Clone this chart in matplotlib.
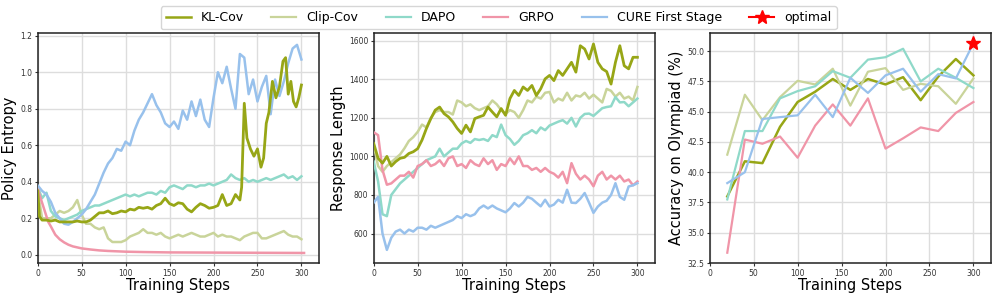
import matplotlib
matplotlib.use("Agg")
import matplotlib.pyplot as plt

# ---------------- data ----------------
labels = ["KL-Cov", "Clip-Cov", "DAPO", "GRPO", "CURE First Stage"]
colors = ["#97a616", "#c9d49a", "#8fd9c9", "#f095a8", "#98c1ec"]

steps5 = list(range(0, 301, 5))

# Panel 1: Policy Entropy
ent_kl_steps = [0, 2, 5, 10, 15, 20, 25, 30, 35, 40, 45, 50, 55, 60, 65, 70, 75, 80, 85, 90, 95,
                100, 105, 110, 115, 120, 125, 130, 135, 140, 145, 150, 155, 160, 165, 170, 175,
                180, 185, 190, 195, 200, 205, 210, 215, 220, 225, 230, 232, 235, 238, 242, 246,
                250, 254, 257, 260, 263, 267, 271, 275, 279, 282, 285, 288, 291, 294, 297, 300]
ent_kl = [0.35, 0.21, 0.19, 0.19, 0.185, 0.19, 0.18, 0.18, 0.18, 0.18, 0.185, 0.18, 0.18, 0.19,
          0.21, 0.23, 0.23, 0.24, 0.225, 0.23, 0.24, 0.235, 0.25, 0.245, 0.26, 0.255, 0.26, 0.25,
          0.27, 0.28, 0.31, 0.28, 0.27, 0.285, 0.28, 0.25, 0.235, 0.26, 0.28, 0.27, 0.255, 0.26,
          0.27, 0.33, 0.27, 0.28, 0.33, 0.30, 0.37, 0.83, 0.64, 0.58, 0.54, 0.58, 0.48, 0.53,
          0.72, 0.78, 0.95, 0.86, 0.92, 1.06, 1.08, 0.88, 0.95, 0.84, 0.81, 0.86, 0.93]
ent_clip = [0.35, 0.20, 0.20, 0.20, 0.22, 0.24, 0.23, 0.24, 0.26, 0.30, 0.22, 0.17, 0.17, 0.15,
            0.14, 0.15, 0.09, 0.07, 0.07, 0.07, 0.08, 0.10, 0.11, 0.12, 0.14, 0.12, 0.12, 0.11,
            0.12, 0.10, 0.09, 0.10, 0.11, 0.10, 0.11, 0.12, 0.11, 0.10, 0.10, 0.11, 0.12, 0.10,
            0.11, 0.10, 0.10, 0.09, 0.08, 0.10, 0.11, 0.12, 0.12, 0.09, 0.09, 0.10, 0.11, 0.12,
            0.13, 0.11, 0.10, 0.10, 0.085]
ent_dapo = [0.37, 0.31, 0.34, 0.24, 0.21, 0.20, 0.19, 0.20, 0.21, 0.22, 0.24, 0.25, 0.26, 0.27,
            0.27, 0.28, 0.29, 0.30, 0.31, 0.32, 0.33, 0.32, 0.33, 0.32, 0.33, 0.34, 0.34, 0.33,
            0.35, 0.34, 0.37, 0.38, 0.37, 0.36, 0.38, 0.38, 0.37, 0.38, 0.38, 0.39, 0.38, 0.39,
            0.40, 0.41, 0.44, 0.42, 0.41, 0.42, 0.40, 0.41, 0.40, 0.41, 0.42, 0.41, 0.42, 0.43,
            0.44, 0.42, 0.43, 0.41, 0.43]
ent_grpo_steps = [0, 2, 4, 6, 8, 10, 12, 15, 20, 25, 30, 35, 40, 50, 60, 70, 80, 100, 120, 150,
                  200, 250, 303]
ent_grpo = [0.37, 0.33, 0.30, 0.27, 0.24, 0.21, 0.18, 0.155, 0.11, 0.085, 0.068, 0.055, 0.046,
            0.035, 0.029, 0.024, 0.021, 0.017, 0.015, 0.013, 0.012, 0.011, 0.010]
ent_cure = [0.38, 0.35, 0.33, 0.29, 0.23, 0.20, 0.17, 0.165, 0.18, 0.20, 0.22, 0.25, 0.29, 0.33,
            0.39, 0.45, 0.50, 0.53, 0.58, 0.57, 0.62, 0.60, 0.68, 0.74, 0.78, 0.83, 0.88, 0.82,
            0.78, 0.72, 0.70, 0.73, 0.69, 0.79, 0.74, 0.84, 0.76, 0.85, 0.74, 0.70, 0.86, 1.00,
            0.94, 1.03, 0.91, 0.80, 1.10, 1.08, 0.88, 0.96, 0.84, 0.92, 0.98, 0.77, 0.96, 0.87,
            0.95, 1.05, 1.13, 1.15, 1.07]

# Panel 2: Response Length
len_kl = [1067, 990, 965, 1000, 950, 973, 990, 995, 1015, 1024, 1040, 1085, 1145, 1196, 1240,
          1256, 1222, 1205, 1179, 1145, 1119, 1162, 1127, 1196, 1205, 1213, 1256, 1230, 1205,
          1248, 1213, 1300, 1342, 1316, 1360, 1342, 1368, 1316, 1351, 1402, 1420, 1393, 1445,
          1420, 1454, 1488, 1437, 1574, 1557, 1505, 1583, 1488, 1454, 1440, 1375, 1488, 1574,
          1470, 1454, 1514, 1514]
len_clip = [1060, 950, 920, 950, 970, 990, 1010, 1042, 1080, 1100, 1127, 1165, 1150, 1200, 1230,
            1240, 1230, 1230, 1217, 1290, 1280, 1260, 1270, 1250, 1240, 1250, 1260, 1290, 1270,
            1240, 1220, 1240, 1230, 1200, 1240, 1290, 1280, 1310, 1300, 1330, 1334, 1280, 1300,
            1290, 1330, 1290, 1316, 1310, 1330, 1300, 1320, 1300, 1280, 1350, 1340, 1310, 1330,
            1300, 1310, 1290, 1360]
len_dapo = [973, 870, 700, 690, 800, 830, 860, 880, 900, 920, 940, 960, 980, 990, 1000, 1040,
            1000, 1020, 1040, 1040, 1067, 1080, 1070, 1090, 1085, 1090, 1080, 1110, 1100, 1165,
            1110, 1090, 1060, 1080, 1110, 1120, 1136, 1120, 1150, 1136, 1160, 1170, 1180, 1188,
            1170, 1200, 1155, 1200, 1220, 1222, 1210, 1230, 1250, 1256, 1260, 1308, 1280, 1282,
            1260, 1280, 1300]
len_grpo = [1125, 1110, 930, 853, 860, 880, 900, 900, 920, 890, 950, 960, 980, 950, 960, 980,
            950, 990, 1000, 950, 960, 940, 980, 960, 950, 990, 960, 980, 930, 960, 950, 990, 960,
            1000, 950, 950, 930, 940, 920, 940, 920, 910, 890, 920, 861, 965, 910, 880, 900, 880,
            845, 900, 920, 880, 900, 880, 900, 870, 880, 850, 870]
len_cure = [760, 790, 600, 515, 578, 610, 620, 600, 620, 610, 630, 630, 620, 640, 630, 640, 650,
            660, 670, 690, 680, 700, 690, 700, 730, 745, 730, 745, 730, 720, 710, 730, 758, 740,
            760, 790, 780, 760, 741, 775, 740, 750, 775, 760, 827, 760, 758, 780, 810, 760, 707,
            740, 760, 770, 800, 861, 790, 775, 844, 850, 861]

# Panel 3: Accuracy on Olympiad
eval_steps = [20, 40, 60, 80, 100, 120, 140, 160, 180, 200, 220, 240, 260, 280, 300]
acc_kl = [38.0, 40.9, 40.75, 43.75, 45.8, 46.65, 47.7, 46.8, 47.7, 47.25, 47.85, 45.95, 47.9, 49.35, 48.0]
acc_clip = [41.45, 46.4, 44.3, 46.2, 47.55, 47.25, 48.55, 45.5, 48.3, 48.6, 46.8, 47.3, 47.1, 45.65, 47.75]
acc_dapo = [37.75, 43.4, 43.4, 46.1, 46.7, 47.1, 48.35, 47.8, 49.3, 49.5, 50.2, 47.5, 48.55, 47.8, 46.95]
acc_grpo = [33.35, 42.7, 42.35, 42.95, 41.2, 43.85, 45.6, 43.85, 46.1, 41.95, 42.8, 43.7, 43.4, 44.9, 45.8]
acc_cure = [39.1, 40.0, 44.4, 44.55, 44.7, 46.4, 44.55, 47.8, 46.55, 48.0, 48.55, 46.65, 48.1, 47.75, 50.65]
optimal_step = [300]
optimal_acc = [50.65]

# ---------------- figure ----------------
fig = plt.figure(figsize=(9.97, 2.97), dpi=100)
W, H = 997, 297
def add_ax(x0, x1, y0, y1):
    return fig.add_axes([x0 / W, 1 - y1 / H, (x1 - x0) / W, (y1 - y0) / H])

ax1 = add_ax(37.7, 319, 33, 263)
ax2 = add_ax(373.7, 655, 33, 263)
ax3 = add_ax(709.7, 991, 33, 263)

lw_main = 1.8
ax1.plot(ent_kl_steps, ent_kl, color=colors[0], lw=2.0, zorder=4)
ax1.plot(steps5, ent_clip, color=colors[1], lw=lw_main, zorder=3)
ax1.plot(steps5, ent_dapo, color=colors[2], lw=lw_main, zorder=3)
ax1.plot(ent_grpo_steps, ent_grpo, color=colors[3], lw=lw_main, zorder=3)
ax1.plot(steps5, ent_cure, color=colors[4], lw=lw_main, zorder=3)

ax2.plot(steps5, len_clip, color=colors[1], lw=lw_main, zorder=3)
ax2.plot(steps5, len_kl, color=colors[0], lw=2.0, zorder=4)
ax2.plot(steps5, len_dapo, color=colors[2], lw=lw_main, zorder=3)
ax2.plot(steps5, len_grpo, color=colors[3], lw=lw_main, zorder=3)
ax2.plot(steps5, len_cure, color=colors[4], lw=lw_main, zorder=3)

handles = []
for ys, c, lab, lw in zip([acc_kl, acc_clip, acc_dapo, acc_grpo, acc_cure], colors, labels,
                          [1.8, 1.6, 1.6, 1.6, 1.6]):
    h, = ax3.plot(eval_steps, ys, color=c, lw=lw, label=lab)
    handles.append(h)
hs, = ax3.plot(optimal_step, optimal_acc, color="red", marker="*", markersize=10, label="optimal")
handles.append(hs)

ax1.set_ylim(-0.045, 1.215)
ax1.set_yticks([0.0, 0.2, 0.4, 0.6, 0.8, 1.0, 1.2])
ax2.set_ylim(447, 1640)
ax2.set_yticks([600, 800, 1000, 1200, 1400, 1600])
ax3.set_ylim(32.5, 51.5)
ax3.set_yticks([32.5, 35.0, 37.5, 40.0, 42.5, 45.0, 47.5, 50.0])

for ax, yl in zip([ax1, ax2, ax3], ["Policy Entropy", "Response Length", "Accuracy on Olympiad (%)"]):
    ax.set_xlim(0, 320)
    ax.set_xticks([0, 50, 100, 150, 200, 250, 300])
    ax.grid(True, color="#dddddd", lw=1.0)
    ax.set_axisbelow(True)
    ax.tick_params(labelsize=5.5, length=2.5, pad=1.5, colors="#333333")
    ax.set_xlabel("Training Steps", fontsize=10.5, labelpad=0)
    ax.set_ylabel(yl, fontsize=10.5, labelpad=2)
    for s in ax.spines.values():
        s.set_linewidth(1.1)
        s.set_color("#222222")

fig.legend(handles=handles, labels=labels + ["optimal"], loc="upper center",
           bbox_to_anchor=(0.5, 1.0), ncol=6, fontsize=9, frameon=True,
           handlelength=2.0, columnspacing=2.2, borderpad=0.4)

fig.savefig("out.png", dpi=100)
